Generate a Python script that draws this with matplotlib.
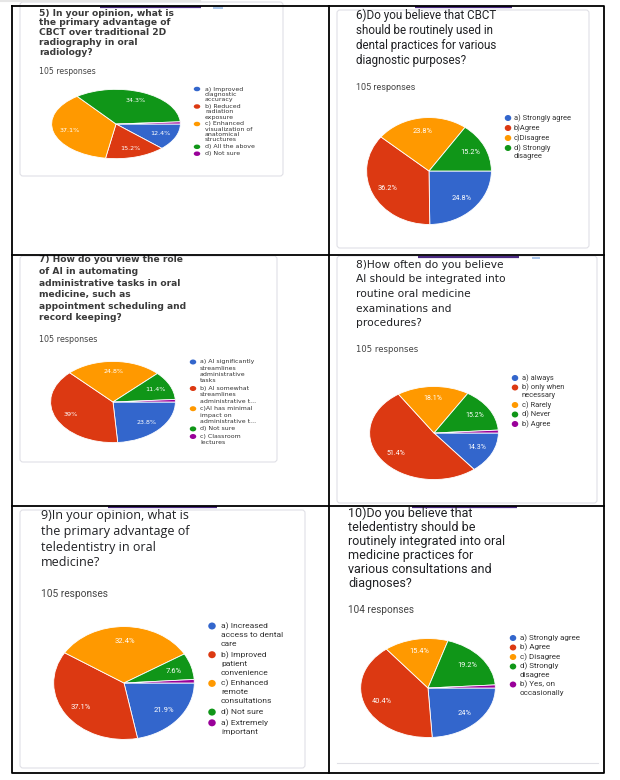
import numpy as np
import matplotlib
matplotlib.use("Agg")
import matplotlib.pyplot as plt
from matplotlib.patches import Ellipse, FancyBboxPatch, Rectangle

# ---------------- data ----------------
COLORS = ["#3366cc", "#dc3912", "#ff9900", "#109618", "#990099"]

q5_title = "5) In your opinion, what is\nthe primary advantage of\nCBCT over traditional 2D\nradiography in oral\nradiology?"
q5_resp = "105 responses"
q5_labels = ["a) Improved\ndiagnostic\naccuracy", "b) Reduced\nradiation\nexposure",
             "c) Enhanced\nvisualization of\nanatomical\nstructures", "d) All the above", "d) Not sure"]
q5_values = [12.4, 15.2, 37.1, 34.3, 1.0]

q6_title = "6)Do you believe that CBCT\nshould be routinely used in\ndental practices for various\ndiagnostic purposes?"
q6_resp = "105 responses"
q6_labels = ["a) Strongly agree", "b)Agree", "c)Disagree", "d) Strongly\ndisagree"]
q6_values = [24.8, 36.2, 23.8, 15.2]

q7_title = "7) How do you view the role\nof AI in automating\nadministrative tasks in oral\nmedicine, such as\nappointment scheduling and\nrecord keeping?"
q7_resp = "105 responses"
q7_labels = ["a) AI significantly\nstreamlines\nadministrative\ntasks", "b) AI somewhat\nstreamlines\nadministrative t...",
             "c)AI has minimal\nimpact on\nadministrative t...", "d) Not sure", "c) Classroom\nlectures"]
q7_values = [23.8, 39.0, 24.8, 11.4, 1.0]

q8_title = "8)How often do you believe\nAI should be integrated into\nroutine oral medicine\nexaminations and\nprocedures?"
q8_resp = "105 responses"
q8_labels = ["a) always", "b) only when\nnecessary", "c) Rarely", "d) Never", "b) Agree"]
q8_values = [14.3, 51.4, 18.1, 15.2, 1.0]

q9_title = "9)In your opinion, what is\nthe primary advantage of\nteledentistry in oral\nmedicine?"
q9_resp = "105 responses"
q9_labels = ["a) Increased\naccess to dental\ncare", "b) Improved\npatient\nconvenience",
             "c) Enhanced\nremote\nconsultations", "d) Not sure", "a) Extremely\nimportant"]
q9_values = [21.9, 37.1, 32.4, 7.6, 1.0]

q10_title = "10)Do you believe that\nteledentistry should be\nroutinely integrated into oral\nmedicine practices for\nvarious consultations and\ndiagnoses?"
q10_resp = "104 responses"
q10_labels = ["a) Strongly agree", "b) Agree", "c) Disagree", "d) Strongly\ndisagree", "b) Yes, on\noccasionally"]
q10_values = [24.0, 40.4, 15.4, 19.2, 1.0]

# ---------------- layout (pixels) ----------------
W, H = 620, 780
fig = plt.figure(figsize=(6.2, 7.8), dpi=100)
bg = fig.add_axes([0, 0, 1, 1])
bg.set_xlim(0, W)
bg.set_ylim(H, 0)
bg.axis("off")

panels = [
    dict(title=q5_title, resp=q5_resp, labels=q5_labels, values=q5_values,
         tx=39, ty=13, tstep=9.8, tfont="DejaVu Sans", tsize=6.6, tweight="bold", tcolor="#3a3a3a",
         rx_=39, ry_=71, rsize=5.6, rfont="DejaVu Sans",
         pie=(116, 124, 65, 35), pctsize=4.6, pctfont="DejaVu Sans",
         lx=197, ltx=205, ly=89, lstep=5.3, lgap=1.6, lsize=4.5, lfont="DejaVu Sans", mk=(6.5, 4.5),
         card=(20, 2, 283, 176), bar=(100, 201, 6.5), blue=(213, 223)),
    dict(title=q6_title, resp=q6_resp, labels=q6_labels, values=q6_values,
         tx=356, ty=15, tstep=15.2, tfont="Roboto", tsize=8.4, tweight="normal", tcolor="#202124",
         rx_=356, ry_=88, rsize=6.5, rfont="Roboto",
         pie=(429, 171, 63, 54), pctsize=5.3, pctfont="Roboto",
         lx=508, ltx=514, ly=118, lstep=8, lgap=2, lsize=5.4, lfont="Roboto", mk=(6.5, 6),
         card=(337, 10, 589, 248), bar=(415, 512, 7), blue=None),
    dict(title=q7_title, resp=q7_resp, labels=q7_labels, values=q7_values,
         tx=39, ty=260, tstep=11.6, tfont="DejaVu Sans", tsize=6.6, tweight="bold", tcolor="#3a3a3a",
         rx_=39, ry_=339, rsize=5.8, rfont="DejaVu Sans",
         pie=(113, 402, 63, 41), pctsize=4.6, pctfont="DejaVu Sans",
         lx=193, ltx=200, ly=362, lstep=6.3, lgap=1.3, lsize=4.5, lfont="DejaVu Sans", mk=(6.5, 5),
         card=(20, 256, 277, 462), bar=None, blue=None),
    dict(title=q8_title, resp=q8_resp, labels=q8_labels, values=q8_values,
         tx=356, ty=265, tstep=14.5, tfont="DejaVu Sans", tsize=7.7, tweight="normal", tcolor="#202124",
         rx_=356, ry_=349, rsize=6.1, rfont="DejaVu Sans",
         pie=(434, 433, 65, 47), pctsize=5.0, pctfont="Roboto",
         lx=515, ltx=522, ly=378, lstep=8, lgap=1.5, lsize=5.4, lfont="Roboto", mk=(6.5, 6),
         card=(337, 256, 597, 503), bar=(418, 519, 257), blue=(532, 540)),
    dict(title=q9_title, resp=q9_resp, labels=q9_labels, values=q9_values,
         tx=41, ty=515, tstep=16, tfont="Open Sans", tsize=9.0, tweight="normal", tcolor="#202124",
         rx_=41, ry_=594, rsize=7.3, rfont="Roboto",
         pie=(124, 683, 71, 57), pctsize=5.5, pctfont="Roboto",
         lx=212, ltx=221, ly=626, lstep=9, lgap=1.7, lsize=6.1, lfont="Roboto", mk=(7.5, 7),
         card=(20, 510, 305, 768), bar=(108, 217, 507), blue=None),
    dict(title=q10_title, resp=q10_resp, labels=q10_labels, values=q10_values,
         tx=348, ty=513, tstep=14.2, tfont="Roboto", tsize=9.0, tweight="normal", tcolor="#202124",
         rx_=348, ry_=610, rsize=7.2, rfont="Roboto",
         pie=(428, 688, 68, 50), pctsize=5.3, pctfont="Roboto",
         lx=513, ltx=520, ly=638, lstep=8.5, lgap=1.0, lsize=5.8, lfont="Roboto", mk=(6.5, 6),
         card=None, bar=(412, 517, 507), blue=None),
]

# cards (screenshot backgrounds)
for p in panels:
    if p["card"] is not None:
        x0, y0, x1, y1 = p["card"]
        bg.add_patch(FancyBboxPatch((x0, y0), x1 - x0, y1 - y0,
                                    boxstyle="round,pad=0,rounding_size=3",
                                    fc="white", ec="#e0e0e6", lw=0.8, zorder=1))
bg.plot([337, 598], [763, 763], color="#e0e0e6", lw=0.8, zorder=1)
bg.plot([0, 200], [1, 1], color="#e6e6e6", lw=1.5, zorder=1)

for p in panels:
    # title
    for i, line in enumerate(p["title"].split("\n")):
        bg.text(p["tx"], p["ty"] + i * p["tstep"], line, va="center", ha="left",
                fontsize=p["tsize"], family=p["tfont"], weight=p["tweight"],
                color=p["tcolor"], zorder=3)
    bg.text(p["rx_"], p["ry_"], p["resp"], va="center", ha="left",
            fontsize=p["rsize"], family=p["rfont"], color="#444444", zorder=3)
    # top decorations
    if p["bar"] is not None:
        bx0, bx1, by = p["bar"]
        bg.plot([bx0, bx1], [by, by], color="#4a2a82", lw=1.6, solid_capstyle="butt", zorder=2)
    if p["blue"] is not None:
        bb0, bb1 = p["blue"]
        bg.add_patch(Rectangle((bb0, p["bar"][2] - 0.5), bb1 - bb0, 2.5, fc="#a9c5ea", ec="none", zorder=2))

    # pie
    cx, cy, rx, ry = p["pie"]
    ax = fig.add_axes([(cx - rx) / W, 1 - (cy + ry) / H, 2 * rx / W, 2 * ry / H])
    wedges, _ = ax.pie(p["values"], colors=COLORS[:len(p["values"])], startangle=0,
                       counterclock=False, radius=1.0,
                       wedgeprops=dict(edgecolor="white", linewidth=0.6))
    ax.set_aspect("auto")
    ax.set_xlim(-1.01, 1.01)
    ax.set_ylim(-1.01, 1.01)
    ax.axis("off")
    for w, v in zip(wedges, p["values"]):
        if v < 2:
            continue
        a = np.deg2rad((w.theta1 + w.theta2) / 2)
        ax.text(0.74 * np.cos(a), 0.74 * np.sin(a), f"{v:g}%", ha="center", va="center",
                color="white", fontsize=p["pctsize"], family=p["pctfont"])

    # legend
    y = p["ly"]
    mw, mh = p["mk"]
    for k, lab in enumerate(p["labels"]):
        bg.add_patch(Ellipse((p["lx"], y), mw, mh, fc=COLORS[k], ec="none", zorder=3))
        for j, ln in enumerate(lab.split("\n")):
            bg.text(p["ltx"], y, ln, va="center", ha="left", fontsize=p["lsize"],
                    family=p["lfont"], color="#333333", zorder=3)
            y += p["lstep"]
        y += p["lgap"]

# table borders
lw = 1.3
bg.plot([12, 604, 604, 12, 12], [6, 6, 773, 773, 6], color="black", lw=lw, zorder=5)
bg.plot([329, 329], [6, 773], color="black", lw=lw, zorder=5)
bg.plot([12, 604], [255, 255], color="black", lw=lw, zorder=5)
bg.plot([12, 604], [506, 506], color="black", lw=lw, zorder=5)

fig.savefig("out.png", dpi=100, facecolor="white")
